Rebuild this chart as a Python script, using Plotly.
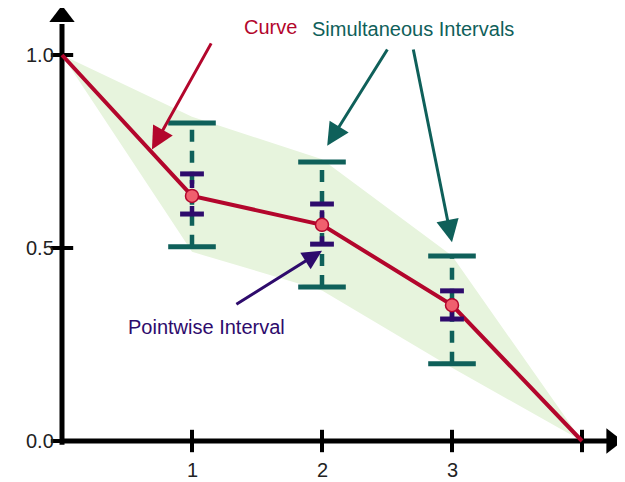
import plotly.graph_objects as go

# data
xs = [0, 1, 2, 3, 4]
curve = [1.0, 0.635, 0.560, 0.352, 0.0]
int_x = [1, 2, 3]
int_est = [0.635, 0.560, 0.352]
sim_lo = [0.503, 0.399, 0.200]
sim_hi = [0.824, 0.723, 0.479]
pw_lo = [0.588, 0.510, 0.316]
pw_hi = [0.692, 0.614, 0.389]
band_upper = [1.0, 0.84, 0.73, 0.48, 0.0]
band_lower = [1.0, 0.49, 0.39, 0.19, 0.0]
x_ticks = [1, 2, 3]
x_tick_labels = ["1", "2", "3"]
y_ticks = [0.0, 0.5, 1.0]
y_tick_labels = ["0.0", "0.5", "1.0"]

RED = "#b3062c"
TEAL = "#0f605a"
PURPLE = "#2e0b6c"
GREEN = "#e7f4dd"
FONT = "Liberation Sans, Arial, sans-serif"

fig = go.Figure()

# band
fig.add_trace(go.Scatter(x=xs + xs[::-1], y=band_upper + band_lower[::-1],
                         fill="toself", fillcolor=GREEN, mode="lines",
                         line=dict(width=0), hoverinfo="skip"))

# axes lines
fig.add_trace(go.Scatter(x=[0, 4.22], y=[0, 0], mode="lines",
                         line=dict(color="black", width=5)))
fig.add_trace(go.Scatter(x=[0, 0], y=[-0.01, 1.08], mode="lines",
                         line=dict(color="black", width=5)))
fig.add_trace(go.Scatter(x=[4.23], y=[0], mode="markers",
                         marker=dict(symbol="triangle-right", size=22, color="black")))
fig.add_trace(go.Scatter(x=[0], y=[1.10], mode="markers",
                         marker=dict(symbol="triangle-up", size=22, color="black")))
# ticks
fig.add_trace(go.Scatter(x=[1, 2, 3, 4], y=[0, 0, 0, 0], mode="markers",
                         marker=dict(symbol="line-ns", size=16,
                                     line=dict(color="black", width=4))))
fig.add_trace(go.Scatter(x=[0, 0, 0], y=y_ticks, mode="markers",
                         marker=dict(symbol="line-ew", size=16,
                                     line=dict(color="black", width=4))))

# simultaneous intervals
for x, lo, hi in zip(int_x, sim_lo, sim_hi):
    fig.add_trace(go.Scatter(x=[x, x], y=[lo, hi], mode="lines",
                             line=dict(color=TEAL, width=4.5, dash="12px,9px")))
fig.add_trace(go.Scatter(x=int_x + int_x, y=sim_lo + sim_hi, mode="markers",
                         marker=dict(symbol="line-ew", size=34,
                                     line=dict(color=TEAL, width=5))))

# curve
fig.add_trace(go.Scatter(x=xs, y=curve, mode="lines",
                         line=dict(color=RED, width=4)))

# pointwise intervals
for x, lo, hi in zip(int_x, pw_lo, pw_hi):
    fig.add_trace(go.Scatter(x=[x, x], y=[lo, hi], mode="lines",
                             line=dict(color=PURPLE, width=4.5, dash="8px,5px")))
fig.add_trace(go.Scatter(x=int_x + int_x, y=pw_lo + pw_hi, mode="markers",
                         marker=dict(symbol="line-ew", size=17,
                                     line=dict(color=PURPLE, width=5))))

# point estimates
fig.add_trace(go.Scatter(x=int_x, y=int_est, mode="markers",
                         marker=dict(size=13, color="#f0606e",
                                     line=dict(color=RED, width=1.5))))

annotations = []
for v, t in zip(x_ticks, x_tick_labels):
    annotations.append(dict(x=v, y=-0.075, text=t, showarrow=False,
                            font=dict(size=20, color="#222", family=FONT)))
for v, t in zip(y_ticks, y_tick_labels):
    annotations.append(dict(x=-0.05, y=v, text=t, showarrow=False, xanchor="right",
                            font=dict(size=20, color="#222", family=FONT)))

# callout labels
annotations += [
    dict(x=1.6, y=1.073, text="Curve", showarrow=False,
         font=dict(size=20, color=RED, family=FONT)),
    dict(x=2.70, y=1.068, text="Simultaneous Intervals", showarrow=False,
         font=dict(size=20, color=TEAL, family=FONT)),
    dict(x=1.11, y=0.295, text="Pointwise Interval", showarrow=False,
         font=dict(size=20, color=PURPLE, family=FONT)),
]
arrows = [
    (0.692, 0.755, 1.154, 1.034, RED, 1.5),
    (2.04, 0.765, 2.51, 1.018, TEAL, 1.5),
    (3.0, 0.515, 2.70, 1.018, TEAL, 1.5),
    (2.0, 0.493, 1.33, 0.352, PURPLE, 1.3),
]
for hx, hy, tx, ty, c, s in arrows:
    annotations.append(dict(x=hx, y=hy, ax=tx, ay=ty, xref="x", yref="y",
                            axref="x", ayref="y", showarrow=True, text="",
                            arrowhead=2, arrowsize=s, arrowwidth=3,
                            arrowcolor=c))

# page body has an 8px margin; shift the mapping so marks land where the reference has them
OFF = 8
fig.update_layout(
    width=625, height=482,
    margin=dict(l=0, r=0, t=0, b=0),
    paper_bgcolor="white", plot_bgcolor="white",
    showlegend=False,
    xaxis=dict(range=[-(62 - OFF) / 130, (625 - 62 + OFF) / 130], visible=False),
    yaxis=dict(range=[-(482 - 441 + OFF) / 386, (441 - OFF) / 386], visible=False),
    annotations=annotations,
)

fig.write_html("out.html")
